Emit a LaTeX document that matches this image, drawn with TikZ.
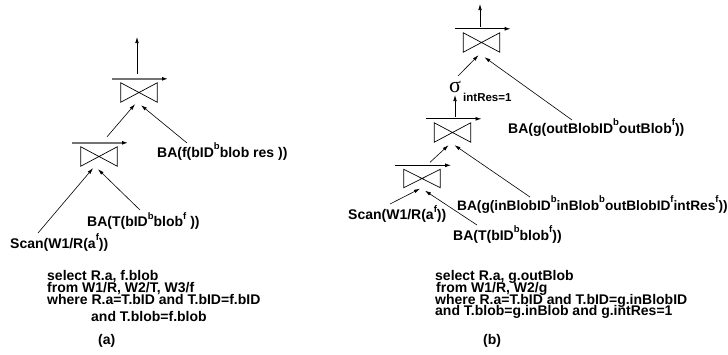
\documentclass[tikz,border=0pt]{standalone}
\usepackage{fontspec}
\setmainfont{Liberation Sans}
\newfontfamily\sigfont{Liberation Serif}
\usetikzlibrary{calc,arrows.meta}
\newcommand\supr[1]{\raisebox{7.5pt}{\fontsize{9.5}{9.5}\selectfont #1}}
\begin{document}
\begin{tikzpicture}[x=1pt,y=-1pt,
  txt/.style={inner sep=0pt,anchor=base west,font=\fontsize{14}{12}\selectfont\bfseries},
  joinbox/.style={rectangle,inner sep=0pt,minimum width=36pt,minimum height=19pt},
  bow/.style={line width=0.7pt,line join=miter},
  conn/.style={line width=0.6pt,-{Latex[length=6pt,width=3.6pt]}},
  barA/.style={draw=black!55,line width=1.4pt,-{Latex[length=6pt,width=4pt,color=black]}},
  barB/.style={draw=black,line width=0.8pt,-{Latex[length=6pt,width=4pt]}},
]
\fill[white] (0,0) rectangle (728,354);
\useasboundingbox (0,0) rectangle (728,354);

% join operators
\node[joinbox] (jt) at (139,92.5) {};
\node[joinbox] (jl) at (99,156.5) {};
\node[joinbox] (rt) at (481.5,42.5) {};
\node[joinbox] (rm) at (452.5,132.5) {};
\node[joinbox,minimum height=18pt] (rl) at (422,178.5) {};
\foreach \j in {jt,jl,rt,rm,rl}
  \draw[bow] (\j.north west) -- (\j.south west) -- (\j.north east) -- (\j.south east) -- cycle;
\foreach \j/\s in {jt/barA,jl/barA,rt/barB,rm/barB,rl/barB}
  \draw[\s] ($(\j.north)+(-27,-4)$) -- ($(\j.north)+(29,-4)$);

% free ends
\coordinate (outA) at (137,37);
\coordinate (outB) at (480,4);

% labels (a)
\node[txt] (baf) at (157,157) {BA(f(bID\supr{b}blob res ))};
\node[txt] (bat) at (87,226.5) {BA(T(bID\supr{b}blob\supr{f} ))};
\node[txt] (scl) at (10,248) {Scan(W1/R(a\supr{f}))};

% labels (b)
\node[txt] (bgo) at (508,133) {BA(g(outBlobID\supr{b}outBlob\supr{f}))};
\node[txt,font=\fontsize{13.7}{12}\selectfont\bfseries] (bgi) at (457,210) {BA(g(inBlobID\supr{b}inBlob\supr{b}outBlobID\supr{f}intRes\supr{f}))};
\node[txt] (scr) at (348,219.5) {Scan(W1/R(a\supr{f}))};
\node[txt] (btr) at (453,240) {BA(T(bID\supr{b}blob\supr{f}))};
\node[inner sep=0pt,anchor=base west,font=\sigfont\fontsize{22}{22}\selectfont] (sig) at (449,92) {σ};
\node[inner sep=0pt,anchor=base west,font=\fontsize{11.5}{12}\selectfont\bfseries] (sigsub) at (463,101.7) {intRes=1};

% connectors (a)
\draw[conn] ($(jt.north)+(-2,-9)$) -- (outA);
\draw[conn] ($(jl.north)+(8,-10)$) -- ($(jt.south)+(-4,2)$);
\draw[conn] ($(baf.base west)+(30,-14)$) -- ($(jt.south)+(2,3)$);
\draw[conn] ($(scl.base west)+(28,-15)$) -- ($(jl.south)+(-6,2)$);
\draw[conn] ($(bat.base west)+(53,-16.5)$) -- ($(jl.south)+(-1,3)$);

% connectors (b)
\draw[conn] ($(rt.north)+(-1.5,-6)$) -- (outB);
\draw[conn] ($(sig.base west)+(9,-16)$) -- ($(rt.south)+(-3,3)$);
\draw[conn] ($(bgo.base west)+(64,-13)$) -- ($(rt.south)+(3,5)$);
\draw[conn] ($(rm.north)+(2.5,-6)$) -- ($(sig.base west)+(6,3)$);
\draw[conn] ($(rl.north)+(8,-7)$) -- ($(rm.south)+(-4,3)$);
\draw[conn] ($(bgi.base west)+(73,-13)$) -- ($(rm.south)+(2,3)$);
\draw[conn] ($(scr.base west)+(42,-15.5)$) -- ($(rl.south)+(-2,1)$);
\draw[conn] ($(btr.base west)+(24,-15)$) -- ($(rl.south)+(3,3)$);

% query texts (a)
\node[txt] (qa1) at (47,280) {select R.a, f.blob};
\node[txt] (qa2) at (47,292.5) {from W1/R, W2/T, W3/f};
\node[txt] (qa3) at (47,304.5) {where R.a=T.bID and T.bID=f.bID};
\node[txt] (qa4) at (91,321.5) {and T.blob=f.blob};
\node[txt] (capa) at (98,344) {(a)};

% query texts (b)
\node[txt] (qb1) at (435,280) {select R.a, g.outBlob};
\node[txt] (qb2) at (436,292.5) {from W1/R, W2/g};
\node[txt] (qb3) at (435,304) {where R.a=T.bID and T.bID=g.inBlobID};
\node[txt] (qb4) at (435,315.5) {and T.blob=g.inBlob and g.intRes=1};
\node[txt] (capb) at (483,344) {(b)};
\end{tikzpicture}
\end{document}
